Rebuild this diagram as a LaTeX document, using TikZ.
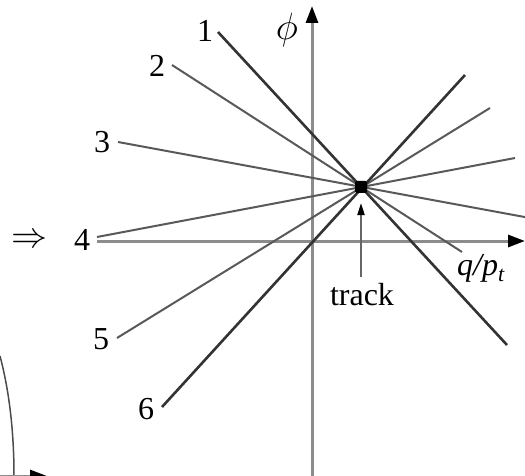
\documentclass[tikz,border=0pt]{standalone}
\usepackage{fix-cm}
\usepackage{fontspec}
\setmainfont{Liberation Serif}
\usetikzlibrary{arrows.meta}
\begin{document}
\begin{tikzpicture}[x=1pt,y=-1pt,
  lbl/.style={font=\fontsize{32}{38}\selectfont, inner sep=0pt},
  axis/.style={draw=black!45, line width=3pt, -{Triangle[length=17pt,width=12pt,color=black]}},
  darkline/.style={draw=black!80, line width=2.6pt},
  lightline/.style={draw=black!65, line width=2pt},
  trackarrow/.style={draw=black!60, line width=2pt, -{Triangle[length=12pt,width=7pt,color=black]}}]
\useasboundingbox (0,0) rectangle (525,476);

% axes
\coordinate (hx0) at (97,241);
\coordinate (hx1) at (525,241);
\coordinate (vy0) at (312,476);
\coordinate (vy1) at (312,6);
\draw[axis] (hx0) -- (hx1);
\draw[axis] (vy0) -- (vy1);

% track point
\coordinate (T) at (361,187);

% line starts and ends
\coordinate (s1) at (218,32);  \coordinate (e1) at (507,345);
\coordinate (s2) at (172,65);  \coordinate (e2) at (462,252);
\coordinate (s3) at (118,142); \coordinate (e3) at (530,218);
\coordinate (s4) at (97,237);  \coordinate (e4) at (515,158);
\coordinate (s5) at (117,338); \coordinate (e5) at (490,108);
\coordinate (s6) at (162,407); \coordinate (e6) at (465,75);

\draw[lightline] (s2) -- (e2);
\draw[lightline] (s3) -- (e3);
\draw[lightline] (s4) -- (e4);
\draw[lightline] (s5) -- (e5);
\draw[darkline] (s1) -- (e1);
\draw[darkline] (s6) -- (e6);

\node[fill=black, minimum size=12pt, inner sep=0pt, rounded corners=1.5pt] (trackdot) at (T) {};

% labels
\node[lbl] (l1) at (205,31) {1};
\node[lbl] (l2) at (157,66) {2};
\node[lbl] (l3) at (102,142) {3};
\node[lbl] (l4) at (82,240) {4};
\node[lbl] (l5) at (101,339) {5};
\node[lbl] (l6) at (146,409) {6};
\node[lbl, font=\fontsize{36}{40}\selectfont] (arr) at (29,241) {$\Rightarrow$};
\node[lbl, font=\fontsize{38}{44}\selectfont] (phi) at (287,30) {$\phi$};
\node[lbl, anchor=west] (qp) at (457,268) {\textit{q/p}\raisebox{-6pt}{\fontsize{22}{24}\selectfont\textit{t}}};
\node[lbl] (track) at (362,295) {track};

\coordinate (tb) at (361,277);
\coordinate (tt) at (361,203);
\draw[trackarrow] (tb) -- (tt);

% partial elements at bottom left
\coordinate (a0) at (0,356);
\coordinate (a1) at (14,476);
\draw[black!70, line width=1.5pt] (a0) .. controls (9,390) and (14,430) .. (a1);
\coordinate (b0) at (0,476);
\coordinate (b1) at (47,476);
\draw[black!45, line width=3pt, -{Triangle[length=17pt,width=12pt,color=black]}] (b0) -- (b1);
\end{tikzpicture}
\end{document}
